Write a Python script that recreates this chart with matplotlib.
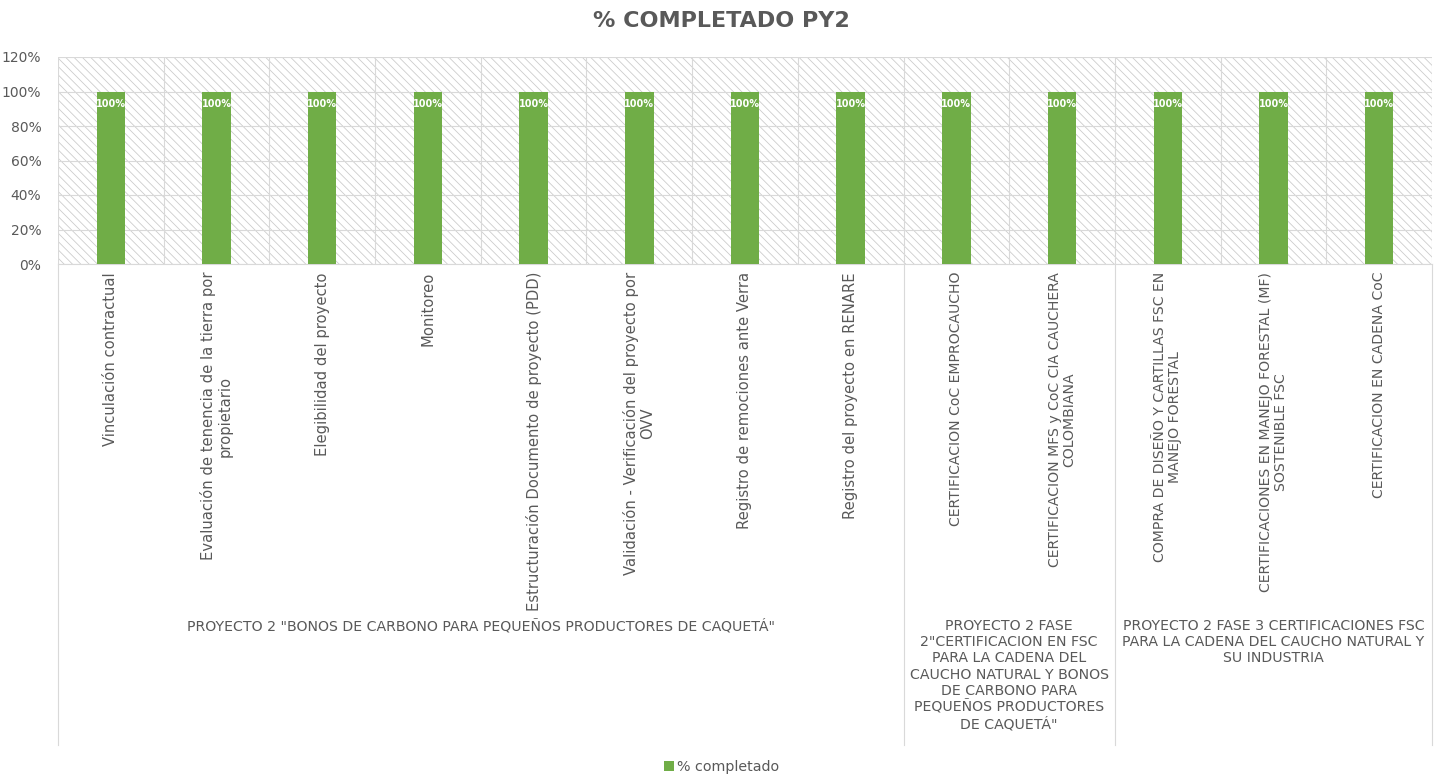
import matplotlib
matplotlib.use("Agg")
import matplotlib.pyplot as plt
from matplotlib.patches import Rectangle
import numpy as np

# data
categories = [
    "Vinculación contractual",
    "Evaluación de tenencia de la tierra por\npropietario",
    "Elegibilidad del proyecto",
    "Monitoreo",
    "Estructuración Documento de proyecto (PDD)",
    "Validación - Verificación del proyecto por\nOVV",
    "Registro de remociones ante Verra",
    "Registro del proyecto en RENARE",
    "CERTIFICACION CoC EMPROCAUCHO",
    "CERTIFICACION MFS y CoC CIA CAUCHERA\nCOLOMBIANA",
    "COMPRA DE DISEÑO Y CARTILLAS FSC EN\nMANEJO FORESTAL",
    "CERTIFICACIONES EN MANEJO FORESTAL (MF)\nSOSTENIBLE FSC",
    "CERTIFICACION EN CADENA CoC",
]
completado = [1.0, 1.0, 1.0, 1.0, 1.0, 1.0, 1.0, 1.0, 1.0, 1.0, 1.0, 1.0, 1.0]

groups = [
    'PROYECTO 2 "BONOS DE CARBONO PARA PEQUEÑOS PRODUCTORES DE CAQUETÁ"',
    'PROYECTO 2 FASE\n2"CERTIFICACION EN FSC\nPARA LA CADENA DEL\nCAUCHO NATURAL Y BONOS\nDE CARBONO PARA\nPEQUEÑOS PRODUCTORES\nDE CAQUETÁ"',
    'PROYECTO 2 FASE 3 CERTIFICACIONES FSC\nPARA LA CADENA DEL CAUCHO NATURAL Y\nSU INDUSTRIA',
]
group_first = [0, 8, 10]
group_last = [7, 9, 12]

yticks = [0, 0.2, 0.4, 0.6, 0.8, 1.0, 1.2]

txt = '#595959'
grid_c = '#d9d9d9'
green = '#70AD47'

plt.rcParams['font.family'] = ['DejaVu Sans']
plt.rcParams['hatch.linewidth'] = 0.6

fig = plt.figure(figsize=(14.43, 7.76), dpi=100)
H = 776.0
ax = fig.add_axes([58 / 1443, (H - 264) / H, 1374 / 1443, 207 / H])

x = np.arange(len(categories))
# hatched background
ax.add_patch(Rectangle((0, 0), 1, 1, transform=ax.transAxes, facecolor='white',
                       edgecolor='#cccccc', hatch='\\\\\\\\', lw=0, zorder=0))
bars = ax.bar(x, completado, width=0.27, color=green, zorder=3, label='% completado')
for i, v in enumerate(completado):
    ax.text(i, v - 0.075, f'{v:.0%}', ha='center', va='center', color='white',
            fontsize=7, fontweight='bold', zorder=4)

ax.set_xlim(-0.5, len(categories) - 0.5)
ax.set_ylim(0, 1.2)
ax.set_yticks(yticks)
ax.set_yticklabels([f'{t:.0%}' for t in yticks], color=txt, fontsize=10)
ax.set_xticks([])
ax.set_xticks(np.arange(-0.5, len(categories)), minor=True)
ax.tick_params(axis='both', which='both', length=0)
ax.tick_params(axis='y', pad=12)
ax.grid(True, axis='y', color=grid_c, lw=0.8, zorder=1)
ax.grid(True, axis='x', which='minor', color=grid_c, lw=0.8, zorder=1)
for s in ['top', 'right', 'left']:
    ax.spines[s].set_visible(False)
ax.spines['bottom'].set_color(grid_c)

tr = ax.get_xaxis_transform()
for i, lab in enumerate(categories):
    # capitals come out wider in DejaVu than in the original font
    caps = sum(c.isupper() for c in lab) / max(1, sum(c.isalpha() for c in lab))
    fs = 10.1 if caps > 0.7 else 10.6
    ax.text(i, -8 / 207, lab, transform=tr, rotation=90, ha='center', va='top',
            multialignment='center', color=txt, fontsize=fs, linespacing=1.1)

ybot = -(745 - 264) / 207
for xs in [-0.5, 7.5, 9.5, 12.5]:
    ax.plot([xs, xs], [0, ybot], transform=tr, color=grid_c, lw=0.8, clip_on=False)

for g, a, b in zip(groups, group_first, group_last):
    ax.text((a + b) / 2, -(619 - 264) / 207, g, transform=tr, ha='center', va='top',
            multialignment='center', color=txt, fontsize=10.2, linespacing=1.2)

fig.text(0.5, 1 - 21 / H, '% COMPLETADO PY2', ha='center', va='center',
         fontsize=16, fontweight='bold', color=txt)

fig.legend(handles=[bars], labels=['% completado'], loc='center',
           bbox_to_anchor=(0.5, 1 - 767 / H), frameon=False, fontsize=10.3,
           labelcolor=txt, handlelength=0.7, handleheight=0.7, handletextpad=0.2)

fig.savefig('out.png', dpi=100, facecolor='white')
